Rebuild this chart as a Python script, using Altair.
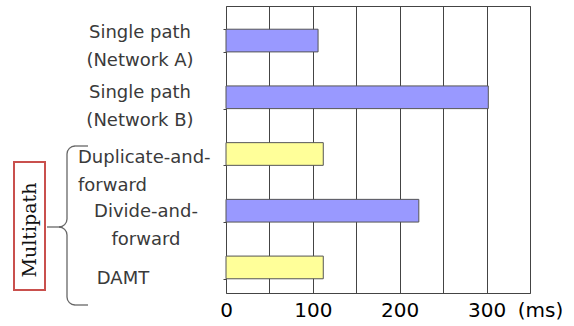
import math
import altair as alt
import pandas as pd

# ---- data ----
categories = [
    "Single path|(Network A)",
    "Single path|(Network B)",
    "Duplicate-and-|forward",
    "Divide-and-|forward",
    "DAMT",
]
delay_ms = [106, 302, 112, 222, 112]
bar_group = ["split", "split", "copy", "split", "copy"]
x_ticks = [0, 50, 100, 150, 200, 250, 300, 350]

df = pd.DataFrame({"method": categories, "delay": delay_ms, "group": bar_group})

# layout offsets of the plot area inside the 574x326 canvas
OX, OY = 226, 6
W, H = 304, 287
FRAME = "#444444"
BRACE = "#666666"

y_enc = alt.Y(
    "method:N",
    sort=categories,
    scale=alt.Scale(paddingInner=0.6, paddingOuter=0.33, align=0.62),
    axis=alt.Axis(
        title=None,
        labels=False,
        ticks=True,
        tickBand="extent",
        tickSize=3,
        tickColor=FRAME,
        domain=False,
        grid=False,
    ),
)

bars = alt.Chart(df).mark_bar(stroke="#555555", strokeWidth=1).encode(
    x=alt.X(
        "delay:Q",
        scale=alt.Scale(domain=[0, 350], nice=False),
        axis=alt.Axis(
            values=x_ticks,
            labelExpr="(datum.value % 100 == 0 && datum.value < 350) ? datum.label : ''",
            labelFlush=False,
            grid=True,
            gridColor=FRAME,
            gridWidth=1,
            gridOpacity=1,
            ticks=False,
            domain=False,
            labelFont="DejaVu Sans",
            labelFontSize=20,
            labelColor="#000000",
            labelPadding=7,
            title="(ms)",
            titleFont="DejaVu Sans",
            titleFontSize=20,
            titleFontWeight="normal",
            titleColor="#000000",
            titleX=314,
            titleY=17,
            titleAlign="center",
            titleBaseline="middle",
        ),
    ),
    y=y_enc,
    color=alt.Color(
        "group:N",
        scale=alt.Scale(domain=["split", "copy"], range=["#9999ff", "#ffff99"]),
        legend=None,
    ),
)

# category label placement (canvas x of anchor, alignment, vertical nudge)
label_layout = [
    (140, "center", -8),
    (140, "center", -4),
    (78, "left", 4),
    (146, "center", 1),
    (123, "center", 12),
]

labels = []
for cat, (lx, al, dy) in zip(categories, label_layout):
    labels.append(
        alt.Chart(df)
        .transform_filter(alt.datum.method == cat)
        .mark_text(
            font="DejaVu Sans", fontSize=18, color="#3a3a3a",
            align=al, baseline="middle", lineBreak="|", lineHeight=28, dy=dy,
        )
        .encode(x=alt.value(lx - OX), y=alt.Y("method:N", sort=categories), text="method:N")
    )

one = alt.Data(values=[{"k": 0}])


def rule(x1, y1, x2, y2):
    return alt.Chart(one).mark_rule(color=BRACE, strokeWidth=1.3).encode(
        x=alt.value(x1 - OX), y=alt.value(y1 - OY),
        x2=alt.value(x2 - OX), y2=alt.value(y2 - OY),
    )


R = 8


def arc(cx, cy, t1, t2):
    return alt.Chart(one).mark_arc(
        radius=R, radius2=R, theta=t1, theta2=t2,
        filled=False, stroke=BRACE, strokeWidth=1.3,
    ).encode(x=alt.value(cx - OX), y=alt.value(cy - OY))


P = math.pi
brace = [
    rule(75, 146, 88, 146),
    arc(75, 154, 1.5 * P, 2 * P),
    rule(67, 154, 67, 219),
    arc(59, 219, 0.5 * P, P),
    rule(47, 227, 59, 227),
    arc(59, 235, 0, 0.5 * P),
    rule(67, 235, 67, 297),
    arc(75, 297, P, 1.5 * P),
    rule(75, 305, 88, 305),
]

box = alt.Chart(one).mark_rect(
    fillOpacity=0, stroke="#c9504d", strokeWidth=2
).encode(
    x=alt.value(14 - OX), x2=alt.value(45 - OX),
    y=alt.value(162 - OY), y2=alt.value(290 - OY),
)

box_text = alt.Chart(one).mark_text(
    text="Multipath", angle=270, font="DejaVu Serif", fontSize=19,
    color="#111111", align="center", baseline="middle",
).encode(x=alt.value(29.5 - OX), y=alt.value(230 - OY))

chart = alt.layer(bars, *labels, box, box_text, *brace).properties(
    width=W,
    height=H,
    padding={"left": OX, "top": OY, "right": 574 - OX - W, "bottom": 326 - OY - H},
    autosize=alt.AutoSizeParams(type="none"),
    background="white",
).configure_view(stroke=FRAME, strokeWidth=1)

chart.save("out.html", embed_options={"renderer": "svg", "actions": False})
